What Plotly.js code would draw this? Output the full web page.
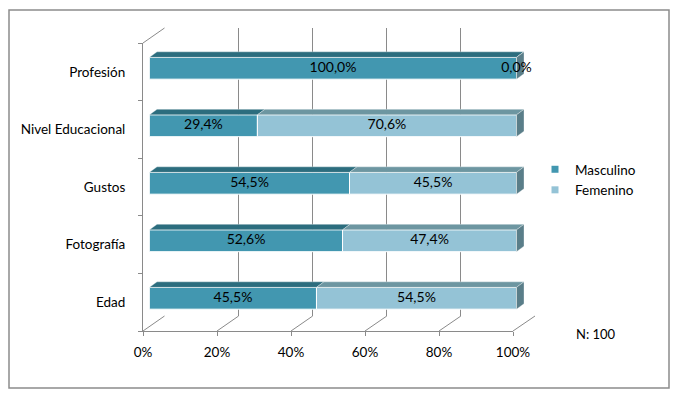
<!DOCTYPE html>
<html>
<head>
<meta charset="utf-8">
<script src="https://cdn.plot.ly/plotly-3.0.1.min.js"></script>
<style>html,body{margin:0;padding:0;background:#fff}#chart{width:675px;height:397px}</style>
</head>
<body>
<div id="chart"></div>
<script>
// ---- data ----
const categories = ['Profesión', 'Nivel Educacional', 'Gustos', 'Fotografía', 'Edad'];
const masculino = [100.0, 29.4, 54.5, 52.6, 45.5];
const femenino = [0.0, 70.6, 45.5, 47.4, 54.5];
const seriesNames = ['Masculino', 'Femenino'];
const xTickVals = [0, 20, 40, 60, 80, 100];
const xTickLabels = ['0%', '20%', '40%', '60%', '80%', '100%'];
const noteText = 'N: 100';

// ---- styling / geometry (pixels) ----
const W = 675, H = 397;
const FONT = 'Lato, "Open Sans", sans-serif';
const colMasc = '#4297b0', colFem = '#94c3d6';
const colMascTop = '#2c6d7e', colFemTop = '#6d96a1', colSide = '#5a7e89';
const gridCol = '#8a8a8a';
const front = {x0: 143, x1: 513, y0: 43, y1: 331};
const back = {x0: 164.5, x1: 535, y0: 28, y1: 316};
const barPl = {x0: 149.5, x1: 516.5, y0: 39.5, y1: 327};
const barW = 0.38;
const depthPx = {x: 7.5, y: 5.5};
const xPad = 5; // extra room on the bar plane for the side faces

const xd = (a, b) => [a / W, b / W];
const yd = (t, b) => [1 - b / H, 1 - t / H];

const idx = categories.map((c, i) => i);
const nCat = categories.length;
const yRange = [nCat - 0.5, -0.5];
const pxPerUnit = (barPl.x1 - barPl.x0) / 100;
const ddx = depthPx.x / pxPerUnit;
const ddy = depthPx.y * nCat / (barPl.y1 - barPl.y0);

const fmt = v => v.toFixed(1).replace('.', ',') + '%';

// 3D faces built from the data
function topFaces(bases, vals) {
  const xs = [], ys = [];
  idx.forEach(i => {
    const b = bases[i], e = bases[i] + vals[i], yt = i - barW / 2;
    xs.push(b, b + ddx, e + ddx, e, b, null);
    ys.push(yt, yt - ddy, yt - ddy, yt, yt, null);
  });
  return {xs, ys};
}
function sideFaces() {
  const xs = [], ys = [];
  idx.forEach(i => {
    const e = masculino[i] + femenino[i];
    const yt = i - barW / 2, yb = i + barW / 2;
    xs.push(e, e + ddx, e + ddx, e, e, null);
    ys.push(yt, yt - ddy, yb - ddy, yb, yt, null);
  });
  return {xs, ys};
}
const zeros = idx.map(() => 0);
const mTop = topFaces(zeros, masculino);
const fTop = topFaces(masculino, femenino);
const side = sideFaces();

const labX = [], labY = [], labT = [];
idx.forEach(i => {
  labX.push(masculino[i] / 2); labY.push(i); labT.push(fmt(masculino[i]));
  labX.push(masculino[i] + femenino[i] / 2); labY.push(i); labT.push(fmt(femenino[i]));
});

const traces = [
  // back wall (gridlines)
  {type: 'scatter', x: xTickVals, y: xTickVals.map(() => 0), mode: 'none', xaxis: 'x', yaxis: 'y', showlegend: false, hoverinfo: 'skip'},
  // front plane (axis labels)
  {type: 'scatter', x: masculino, y: idx, mode: 'none', xaxis: 'x2', yaxis: 'y2', showlegend: false, hoverinfo: 'skip'},
  // 3D faces
  {type: 'scatter', x: mTop.xs, y: mTop.ys, mode: 'lines', fill: 'toself', fillcolor: colMascTop,
   line: {color: 'rgba(255,255,255,0.55)', width: 0.6}, xaxis: 'x3', yaxis: 'y3', showlegend: false, hoverinfo: 'skip'},
  {type: 'scatter', x: fTop.xs, y: fTop.ys, mode: 'lines', fill: 'toself', fillcolor: colFemTop,
   line: {color: 'rgba(255,255,255,0.55)', width: 0.6}, xaxis: 'x3', yaxis: 'y3', showlegend: false, hoverinfo: 'skip'},
  {type: 'scatter', x: side.xs, y: side.ys, mode: 'lines', fill: 'toself', fillcolor: colSide,
   line: {color: 'rgba(255,255,255,0.55)', width: 0.6}, xaxis: 'x3', yaxis: 'y3', showlegend: false, hoverinfo: 'skip'},
  // bars
  {type: 'bar', orientation: 'h', name: seriesNames[0], x: masculino, y: idx, base: zeros, width: barW,
   marker: {color: colMasc, line: {color: '#ffffff', width: 1}}, xaxis: 'x3', yaxis: 'y3', showlegend: false, hoverinfo: 'x+name'},
  {type: 'bar', orientation: 'h', name: seriesNames[1], x: femenino, y: idx, base: masculino, width: barW,
   marker: {color: colFem, line: {color: '#ffffff', width: 1}}, xaxis: 'x3', yaxis: 'y3', showlegend: false, hoverinfo: 'x+name'},
  // value labels
  {type: 'scatter', x: labX, y: labY, text: labT, mode: 'text', textposition: 'middle center',
   textfont: {family: FONT, size: 14, color: '#000'}, xaxis: 'x3', yaxis: 'y3', showlegend: false, hoverinfo: 'skip', cliponaxis: false},
  // legend entries
  {type: 'scatter', name: seriesNames[0], x: [null], y: [null], mode: 'markers',
   marker: {symbol: 'square', size: 7, color: colMasc}, xaxis: 'x3', yaxis: 'y3'},
  {type: 'scatter', name: seriesNames[1], x: [null], y: [null], mode: 'markers',
   marker: {symbol: 'square', size: 7, color: colFem}, xaxis: 'x3', yaxis: 'y3'}
];

// floor and wall edges (decoration)
const shapes = [
  {type: 'rect', xref: 'paper', yref: 'paper', x0: 9 / W, x1: 669 / W, y0: 1 - 388 / H, y1: 1 - 10 / H,
   line: {color: '#8c8c8c', width: 1.5}},
  {type: 'line', xref: 'paper', yref: 'paper', x0: front.x0 / W, y0: 1 - front.y0 / H, x1: back.x0 / W, y1: 1 - back.y0 / H,
   line: {color: gridCol, width: 1}, layer: 'below'}
];
xTickVals.forEach((v) => {
  const fx = front.x0 + (front.x1 - front.x0) * v / 100;
  const bx = back.x0 + (back.x1 - back.x0) * v / 100;
  shapes.push({type: 'line', xref: 'paper', yref: 'paper', x0: fx / W, y0: 1 - front.y1 / H, x1: bx / W, y1: 1 - back.y1 / H,
    line: {color: gridCol, width: 1}, layer: 'below'});
});

const layout = {
  width: W, height: H,
  margin: {l: 0, r: 0, t: 0, b: 0, pad: 0},
  paper_bgcolor: '#ffffff', plot_bgcolor: 'rgba(0,0,0,0)',
  font: {family: FONT, size: 13, color: '#000'},
  barmode: 'overlay',
  showlegend: true,
  legend: {x: 535 / W, xanchor: 'left', y: 1 - 180 / H, yanchor: 'middle', bgcolor: 'rgba(0,0,0,0)',
           font: {family: FONT, size: 13.5, color: '#000'}, tracegroupgap: 0, itemclick: false},
  // back wall
  xaxis: {domain: xd(back.x0, back.x1), range: [0, 100], tickvals: xTickVals, showticklabels: false, ticks: '',
          showgrid: true, gridcolor: gridCol, gridwidth: 1, zeroline: false, showline: false, anchor: 'y', fixedrange: true},
  yaxis: {domain: yd(back.y0, back.y1), range: [0, 1], showticklabels: false, ticks: '', showgrid: false,
          zeroline: false, showline: false, anchor: 'x', fixedrange: true},
  // front plane
  xaxis2: {domain: xd(front.x0, front.x1), range: [0, 100], tickvals: xTickVals, ticktext: xTickLabels,
           ticks: 'outside', ticklen: 4, tickcolor: gridCol, showline: true, linecolor: gridCol, linewidth: 1,
           showgrid: false, zeroline: false, anchor: 'y2', ticklabelstandoff: 5,
           tickfont: {family: FONT, size: 13.5, color: '#000'}, fixedrange: true},
  yaxis2: {domain: yd(front.y0, front.y1), range: yRange, tickvals: idx, ticktext: categories, ticks: '',
           minor: {tickvals: categories.map((c, i) => i - 0.5).concat([nCat - 0.5]), ticks: 'outside', ticklen: 4, tickcolor: gridCol, showgrid: false},
           showline: true, linecolor: gridCol, linewidth: 1, showgrid: false, zeroline: false, anchor: 'x2',
           ticklabelstandoff: 14, tickfont: {family: FONT, size: 13.5, color: '#000'}, fixedrange: true},
  // bar plane (extended a little to the right so the side faces are not clipped)
  xaxis3: {domain: xd(barPl.x0, barPl.x0 + pxPerUnit * (100 + xPad)), range: [0, 100 + xPad], visible: false, anchor: 'y3', fixedrange: true},
  yaxis3: {domain: yd(barPl.y0, barPl.y1), range: yRange, visible: false, anchor: 'x3', fixedrange: true},
  shapes: shapes,
  annotations: [
    {xref: 'paper', yref: 'paper', x: 574 / W, y: 1 - 334 / H, xanchor: 'left', yanchor: 'middle',
     text: noteText, showarrow: false, font: {family: FONT, size: 13, color: '#000'}}
  ]
};

Plotly.newPlot('chart', traces, layout, {displayModeBar: false, staticPlot: true});
</script>
</body>
</html>
